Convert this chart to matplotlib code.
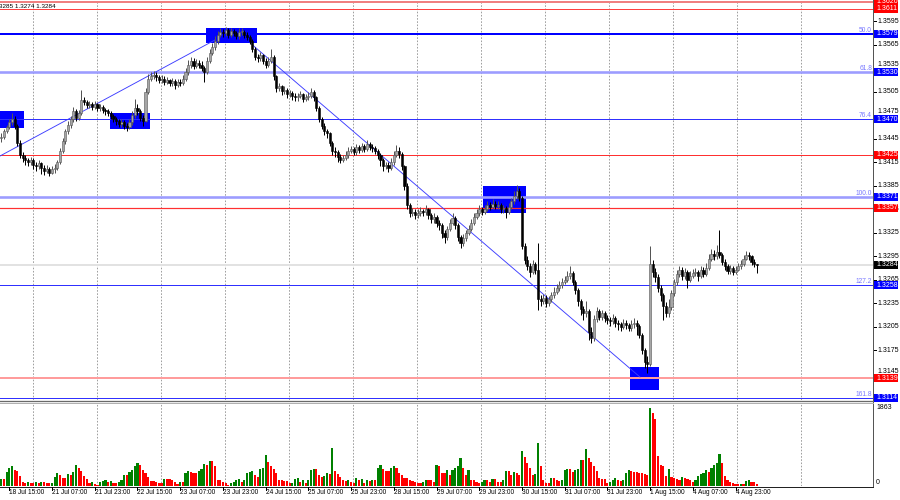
import matplotlib
matplotlib.use('Agg')
import matplotlib.pyplot as plt
from matplotlib.patches import Rectangle
import matplotlib.transforms as mtransforms

# ---------------- data (H1 candles, 18 Jul 12:00 .. 5 Aug 07:00) ----------------
open_ = [
1.3446,1.3448,1.3455,1.3460,1.3466,1.3470,1.3462,1.3440,1.3425,1.3420,
1.3418,1.3415,1.3418,1.3412,1.3410,1.3414,1.3408,1.3404,1.3407,1.3402,
1.3406,1.3408,1.3415,1.3430,1.3442,1.3455,1.3463,1.3470,1.3480,1.3472,
1.3478,1.3495,1.3492,1.3488,1.3490,1.3486,1.3489,1.3484,1.3486,1.3482,
1.3480,1.3478,1.3474,1.3470,1.3468,1.3464,1.3466,1.3462,1.3460,1.3466,
1.3475,1.3485,1.3480,1.3472,1.3468,1.3505,1.3522,1.3525,1.3527,1.3524,
1.3520,1.3522,1.3518,1.3520,1.3516,1.3519,1.3514,1.3518,1.3516,1.3521,
1.3530,1.3540,1.3545,1.3538,1.3542,1.3540,1.3536,1.3530,1.3545,1.3555,
1.3562,1.3570,1.3578,1.3582,1.3580,1.3584,1.3578,1.3583,1.3580,1.3576,
1.3582,1.3582,1.3578,1.3575,1.3570,1.3560,1.3550,1.3548,1.3552,1.3545,
1.3540,1.3545,1.3550,1.3525,1.3510,1.3512,1.3506,1.3508,1.3502,1.3504,
1.3500,1.3498,1.3500,1.3502,1.3496,1.3498,1.3500,1.3505,1.3498,1.3485,
1.3470,1.3462,1.3455,1.3452,1.3440,1.3430,1.3428,1.3422,1.3418,1.3420,
1.3425,1.3430,1.3432,1.3428,1.3434,1.3431,1.3436,1.3432,1.3438,1.3435,
1.3433,1.3430,1.3424,1.3418,1.3410,1.3412,1.3408,1.3415,1.3425,1.3430,
1.3426,1.3410,1.3385,1.3360,1.3350,1.3352,1.3348,1.3350,1.3353,1.3351,
1.3355,1.3348,1.3342,1.3345,1.3338,1.3335,1.3325,1.3320,1.3330,1.3338,
1.3344,1.3335,1.3320,1.3312,1.3318,1.3325,1.3330,1.3338,1.3345,1.3350,
1.3355,1.3352,1.3356,1.3360,1.3358,1.3362,1.3359,1.3361,1.3355,1.3357,
1.3352,1.3358,1.3365,1.3372,1.3378,1.3370,1.3308,1.3290,1.3282,1.3275,
1.3285,1.3278,1.3240,1.3238,1.3242,1.3235,1.3240,1.3245,1.3250,1.3255,
1.3258,1.3262,1.3265,1.3270,1.3274,1.3262,1.3252,1.3238,1.3228,1.3222,
1.3225,1.3198,1.3190,1.3215,1.3225,1.3218,1.3222,1.3216,1.3214,1.3212,
1.3216,1.3210,1.3208,1.3205,1.3210,1.3207,1.3204,1.3208,1.3210,1.3206,
1.3195,1.3175,1.3160,1.3158,1.3285,1.3275,1.3268,1.3255,1.3245,1.3232,
1.3222,1.3230,1.3248,1.3262,1.3272,1.3278,1.3270,1.3275,1.3265,1.3270,
1.3274,1.3275,1.3270,1.3278,1.3272,1.3280,1.3292,1.3298,1.3295,1.3300,
1.3296,1.3288,1.3282,1.3276,1.3280,1.3275,1.3278,1.3282,1.3285,1.3292,
1.3296,1.3295,1.3288,1.3285]

high = [
1.3452,1.3457,1.3463,1.3470,1.3478,1.3474,1.3464,1.3443,1.3428,1.3424,
1.3421,1.3422,1.3420,1.3416,1.3418,1.3416,1.3412,1.3411,1.3409,1.3410,
1.3413,1.3418,1.3433,1.3446,1.3458,1.3468,1.3474,1.3486,1.3483,1.3482,
1.3507,1.3499,1.3495,1.3494,1.3492,1.3493,1.3491,1.3490,1.3488,1.3485,
1.3483,1.3480,1.3477,1.3473,1.3471,1.3470,1.3469,1.3465,1.3470,1.3480,
1.3496,1.3490,1.3483,1.3476,1.3510,1.3528,1.3530,1.3532,1.3530,1.3527,
1.3527,1.3525,1.3524,1.3522,1.3523,1.3521,1.3522,1.3521,1.3526,1.3535,
1.3546,1.3550,1.3548,1.3547,1.3546,1.3544,1.3538,1.3550,1.3560,1.3568,
1.3576,1.3583,1.3587,1.3585,1.3588,1.3586,1.3587,1.3585,1.3583,1.3586,
1.3587,1.3584,1.3581,1.3578,1.3572,1.3562,1.3554,1.3556,1.3554,1.3548,
1.3550,1.3560,1.3552,1.3527,1.3516,1.3514,1.3512,1.3510,1.3508,1.3506,
1.3503,1.3504,1.3506,1.3504,1.3502,1.3505,1.3510,1.3507,1.3500,1.3487,
1.3473,1.3465,1.3458,1.3454,1.3442,1.3434,1.3431,1.3426,1.3425,1.3430,
1.3434,1.3436,1.3435,1.3438,1.3437,1.3440,1.3439,1.3444,1.3441,1.3438,
1.3436,1.3432,1.3427,1.3420,1.3416,1.3415,1.3420,1.3430,1.3437,1.3434,
1.3428,1.3412,1.3388,1.3363,1.3357,1.3355,1.3355,1.3358,1.3356,1.3360,
1.3357,1.3350,1.3350,1.3348,1.3341,1.3337,1.3328,1.3334,1.3342,1.3350,
1.3346,1.3337,1.3322,1.3323,1.3329,1.3335,1.3342,1.3350,1.3355,1.3360,
1.3358,1.3361,1.3365,1.3364,1.3368,1.3365,1.3366,1.3363,1.3361,1.3359,
1.3363,1.3370,1.3378,1.3386,1.3382,1.3372,1.3312,1.3295,1.3286,1.3290,
1.3288,1.3312,1.3245,1.3247,1.3245,1.3244,1.3250,1.3256,1.3260,1.3263,
1.3267,1.3270,1.3276,1.3282,1.3276,1.3265,1.3255,1.3241,1.3232,1.3238,
1.3228,1.3205,1.3220,1.3230,1.3228,1.3226,1.3225,1.3220,1.3217,1.3221,
1.3219,1.3213,1.3211,1.3215,1.3214,1.3210,1.3214,1.3216,1.3213,1.3208,
1.3197,1.3178,1.3168,1.3308,1.3290,1.3280,1.3272,1.3258,1.3248,1.3236,
1.3240,1.3252,1.3266,1.3278,1.3282,1.3281,1.3280,1.3278,1.3276,1.3279,
1.3280,1.3278,1.3282,1.3281,1.3286,1.3298,1.3304,1.3303,1.3310,1.3329,
1.3299,1.3291,1.3285,1.3284,1.3283,1.3282,1.3287,1.3290,1.3297,1.3302,
1.3300,1.3297,1.3291,1.3285]

low = [
1.3441,1.3445,1.3452,1.3457,1.3463,1.3458,1.3436,1.3421,1.3415,1.3412,
1.3410,1.3411,1.3406,1.3404,1.3407,1.3400,1.3399,1.3401,1.3398,1.3400,
1.3402,1.3405,1.3413,1.3427,1.3439,1.3451,1.3459,1.3466,1.3468,1.3469,
1.3476,1.3488,1.3484,1.3485,1.3482,1.3483,1.3480,1.3481,1.3478,1.3476,
1.3474,1.3470,1.3466,1.3463,1.3460,1.3460,1.3458,1.3455,1.3457,1.3463,
1.3472,1.3476,1.3468,1.3462,1.3466,1.3502,1.3519,1.3521,1.3519,1.3516,
1.3517,1.3514,1.3515,1.3512,1.3513,1.3509,1.3511,1.3512,1.3514,1.3519,
1.3527,1.3536,1.3534,1.3535,1.3536,1.3532,1.3518,1.3528,1.3542,1.3552,
1.3559,1.3566,1.3575,1.3575,1.3577,1.3574,1.3575,1.3576,1.3572,1.3573,
1.3578,1.3574,1.3571,1.3566,1.3556,1.3546,1.3543,1.3545,1.3541,1.3536,
1.3537,1.3542,1.3520,1.3505,1.3506,1.3501,1.3502,1.3497,1.3498,1.3495,
1.3493,1.3494,1.3497,1.3492,1.3493,1.3495,1.3497,1.3494,1.3481,1.3466,
1.3457,1.3450,1.3446,1.3436,1.3425,1.3422,1.3416,1.3414,1.3415,1.3418,
1.3421,1.3427,1.3424,1.3425,1.3427,1.3428,1.3428,1.3430,1.3431,1.3428,
1.3426,1.3419,1.3410,1.3404,1.3406,1.3403,1.3405,1.3412,1.3422,1.3420,
1.3405,1.3380,1.3355,1.3345,1.3346,1.3343,1.3344,1.3347,1.3346,1.3348,
1.3343,1.3337,1.3338,1.3333,1.3328,1.3318,1.3312,1.3316,1.3327,1.3335,
1.3330,1.3315,1.3306,1.3308,1.3315,1.3322,1.3327,1.3335,1.3342,1.3347,
1.3348,1.3349,1.3353,1.3354,1.3355,1.3355,1.3356,1.3350,1.3350,1.3344,
1.3349,1.3355,1.3362,1.3368,1.3366,1.3304,1.3285,1.3277,1.3268,1.3272,
1.3272,1.3226,1.3232,1.3234,1.3230,1.3231,1.3237,1.3242,1.3247,1.3251,
1.3255,1.3259,1.3262,1.3266,1.3258,1.3247,1.3232,1.3220,1.3214,1.3218,
1.3188,1.3184,1.3187,1.3211,1.3213,1.3214,1.3211,1.3209,1.3206,1.3208,
1.3205,1.3201,1.3200,1.3202,1.3202,1.3199,1.3200,1.3204,1.3194,1.3190,
1.3170,1.3152,1.3146,1.3155,1.3268,1.3262,1.3250,1.3238,1.3214,1.3218,
1.3218,1.3226,1.3244,1.3258,1.3268,1.3265,1.3266,1.3254,1.3262,1.3267,
1.3270,1.3264,1.3267,1.3268,1.3270,1.3278,1.3289,1.3290,1.3292,1.3293,
1.3284,1.3278,1.3272,1.3273,1.3271,1.3273,1.3276,1.3279,1.3283,1.3290,
1.3290,1.3284,1.3281,1.3274]

close = [
1.3448,1.3455,1.3460,1.3466,1.3470,1.3462,1.3440,1.3425,1.3420,1.3418,
1.3415,1.3418,1.3412,1.3410,1.3414,1.3408,1.3404,1.3407,1.3402,1.3406,
1.3408,1.3415,1.3430,1.3442,1.3455,1.3463,1.3470,1.3480,1.3472,1.3478,
1.3495,1.3492,1.3488,1.3490,1.3486,1.3489,1.3484,1.3486,1.3482,1.3480,
1.3478,1.3474,1.3470,1.3468,1.3464,1.3466,1.3462,1.3460,1.3466,1.3475,
1.3485,1.3480,1.3472,1.3468,1.3505,1.3522,1.3525,1.3527,1.3524,1.3520,
1.3522,1.3518,1.3520,1.3516,1.3519,1.3514,1.3518,1.3516,1.3521,1.3530,
1.3540,1.3545,1.3538,1.3542,1.3540,1.3536,1.3530,1.3545,1.3555,1.3562,
1.3570,1.3578,1.3582,1.3580,1.3584,1.3578,1.3583,1.3580,1.3576,1.3582,
1.3582,1.3578,1.3575,1.3570,1.3560,1.3550,1.3548,1.3552,1.3545,1.3540,
1.3545,1.3550,1.3525,1.3510,1.3512,1.3506,1.3508,1.3502,1.3504,1.3500,
1.3498,1.3500,1.3502,1.3496,1.3498,1.3500,1.3505,1.3498,1.3485,1.3470,
1.3462,1.3455,1.3452,1.3440,1.3430,1.3428,1.3422,1.3418,1.3420,1.3425,
1.3430,1.3432,1.3428,1.3434,1.3431,1.3436,1.3432,1.3438,1.3435,1.3433,
1.3430,1.3424,1.3418,1.3410,1.3412,1.3408,1.3415,1.3425,1.3430,1.3426,
1.3410,1.3385,1.3360,1.3350,1.3352,1.3348,1.3350,1.3353,1.3351,1.3355,
1.3348,1.3342,1.3345,1.3338,1.3335,1.3325,1.3320,1.3330,1.3338,1.3344,
1.3335,1.3320,1.3312,1.3318,1.3325,1.3330,1.3338,1.3345,1.3350,1.3355,
1.3352,1.3356,1.3360,1.3358,1.3362,1.3359,1.3361,1.3355,1.3357,1.3352,
1.3358,1.3365,1.3372,1.3378,1.3370,1.3308,1.3290,1.3282,1.3275,1.3285,
1.3278,1.3240,1.3238,1.3242,1.3235,1.3240,1.3245,1.3250,1.3255,1.3258,
1.3262,1.3265,1.3270,1.3274,1.3262,1.3252,1.3238,1.3228,1.3222,1.3225,
1.3198,1.3190,1.3215,1.3225,1.3218,1.3222,1.3216,1.3214,1.3212,1.3216,
1.3210,1.3208,1.3205,1.3210,1.3207,1.3204,1.3208,1.3210,1.3206,1.3195,
1.3175,1.3160,1.3158,1.3285,1.3275,1.3268,1.3255,1.3245,1.3232,1.3222,
1.3230,1.3248,1.3262,1.3272,1.3278,1.3270,1.3275,1.3265,1.3270,1.3274,
1.3275,1.3270,1.3278,1.3272,1.3280,1.3292,1.3298,1.3295,1.3300,1.3296,
1.3288,1.3282,1.3276,1.3280,1.3275,1.3278,1.3282,1.3285,1.3292,1.3296,
1.3295,1.3288,1.3285,1.3284]

volume = [
160,160,340,440,470,390,360,240,97,80,
97,80,80,100,80,97,97,80,65,80,
220,310,270,200,185,280,260,340,500,430,
350,240,160,80,97,40,35,100,120,145,
105,120,80,65,105,145,266,266,323,387,
468,549,508,387,307,226,121,121,105,80,
65,161,161,161,145,105,40,105,105,307,
347,323,307,307,347,403,533,508,589,589,
484,145,145,105,65,24,65,105,145,161,
105,145,307,323,347,266,226,403,420,750,
565,484,403,307,145,145,121,121,65,80,
161,186,105,145,80,145,387,403,403,266,
226,242,307,290,912,347,290,226,145,121,
145,105,65,186,145,161,65,145,121,145,
145,428,508,403,347,347,428,484,428,307,
266,202,202,145,121,105,65,65,105,145,
145,145,105,508,468,307,307,387,266,387,
428,484,670,428,266,387,145,145,105,65,
105,145,145,105,161,161,105,105,145,363,
363,266,323,307,266,831,686,549,428,266,
282,1017,484,145,80,65,186,186,145,121,
145,387,403,403,323,387,403,630,630,872,
670,565,468,347,186,161,161,65,105,145,
186,145,121,145,307,371,347,323,323,307,
307,290,266,1863,1740,1610,725,508,484,250,
403,226,186,161,145,220,200,160,145,100,
145,240,280,300,380,340,430,510,540,770,
540,240,140,100,65,40,40,55,55,120,
140,105,105,55]

time_labels = ['18 Jul 15:00', '21 Jul 07:00', '21 Jul 23:00', '22 Jul 15:00',
               '23 Jul 07:00', '23 Jul 23:00', '24 Jul 15:00', '25 Jul 07:00',
               '25 Jul 23:00', '28 Jul 15:00', '29 Jul 07:00', '29 Jul 23:00',
               '30 Jul 15:00', '31 Jul 07:00', '31 Jul 23:00', '1 Aug 15:00',
               '4 Aug 07:00', '4 Aug 23:00']
time_label_bars = [3, 19, 35, 51, 67, 83, 99, 115, 131, 147, 163, 179, 195, 211,
                   227, 243, 259, 275]
grid_bars = [11.7, 35.7, 59.7, 83.7, 107.7, 131.7, 155.7, 179.7, 203.7, 227.7,
             251.7, 275.7, 299.7]

price_ticks = [1.3595, 1.3565, 1.3535, 1.3505, 1.3475, 1.3445, 1.3415, 1.3385,
               1.3355, 1.3325, 1.3295, 1.3265, 1.3235, 1.3205, 1.3175, 1.3145]
# ticks whose label is nudged up (pixels) so the level boxes do not cover them
tick_nudge = {1.3535: 4.0, 1.3475: 4.0, 1.3145: 2.5}

# horizontal levels: (price, line colour, line width px, label box colour)
levels = [
    (1.3620, '#f08080', 2.0, '#ff0000'),
    (1.3611, '#ff4040', 1.0, '#ff0000'),
    (1.3579, '#0000ff', 2.0, '#0000ff'),
    (1.3530, '#9c9cff', 2.6, '#0000ff'),
    (1.3470, '#3030ff', 1.0, '#0000ff'),
    (1.3425, '#ff3030', 1.0, '#ff0000'),
    (1.3371, '#9c9cff', 2.6, '#0000ff'),
    (1.3357, '#ff3030', 1.2, '#ff0000'),
    (1.3284, '#e2e2e2', 2.0, '#000000'),
    (1.3258, '#3030ff', 1.0, '#0000ff'),
    (1.3139, '#ff9c9c', 2.0, '#ff0000'),
    (1.3114, '#3030ff', 1.0, '#0000ff'),
]
fib_labels = [('50.0', 1.3579), ('61.8', 1.3530), ('76.4', 1.3470),
              ('100.0', 1.3371), ('127.2', 1.3258), ('161.8', 1.3114)]

# zones (bar_start, bar_end, price_low, price_high)
zones = [(-1.0, 8.5, 1.34589, 1.34806),
         (40.7, 55.7, 1.34576, 1.34780),
         (76.7, 95.8, 1.35675, 1.35866),
         (180.4, 196.5, 1.33503, 1.33848),
         (235.5, 246.3, 1.31242, 1.31536)]
# trend lines ((bar, price), (bar, price))
trend_lines = [((-0.5, 1.34231), (80.0, 1.35713)),
               ((93.2, 1.35675), (239.2, 1.31408))]

# ---------------- figure / layout ----------------
plt.rcParams['font.family'] = ['Liberation Sans', 'DejaVu Sans']
W, H = 900, 500
PX = 0.72  # points per pixel at dpi 100
fig = plt.figure(figsize=(9, 5), dpi=100)
fig.patch.set_facecolor('white')


def rect(l, t, r, b):
    return [l / W, 1 - b / H, (r - l) / W, (b - t) / H]


ax = fig.add_axes(rect(0, 0, 873, 400))
axv = fig.add_axes(rect(0, 403, 873, 486))
ov = fig.add_axes([0, 0, 1, 1])
ov.set_xlim(0, W)
ov.set_ylim(H, 0)
ov.axis('off')

for a in (ax, axv):
    a.set_xlim(-0.5, 326.5)
    a.axis('off')
ax.set_ylim(1.31114, 1.36224)
axv.set_ylim(0, 1982)

# grid
for g in grid_bars:
    for a in (ax, axv):
        a.axvline(g, color='#a0a0a0', lw=1 * PX, ls=(0, (1.6, 1.6)), zorder=0.5)

# zones
for x0, x1, p0, p1 in zones:
    ax.add_patch(Rectangle((x0, p0), x1 - x0, p1 - p0, facecolor='#0000ff',
                           edgecolor='none', zorder=1))

# levels
for p, col, lw, _ in levels:
    ax.axhline(p, color=col, lw=lw * PX, zorder=1.5)

# trend lines
for (xa, pa), (xb, pb) in trend_lines:
    ax.plot([xa, xb], [pa, pb], color='#3c3cff', lw=0.9 * PX, zorder=2)

# candles
n = len(close)
bx, bb, bh = [], [], []
rx, rb, rh = [], [], []
for i in range(n):
    o, c = open_[i], close[i]
    body_lo = min(o, c)
    body_h = max(abs(c - o), 0.00007)
    if c >= o:
        bx.append(i); bb.append(body_lo); bh.append(body_h)
    else:
        rx.append(i); rb.append(body_lo); rh.append(body_h)
bull_idx = [i for i in range(n) if close[i] >= open_[i]]
bear_idx = [i for i in range(n) if close[i] < open_[i]]
ax.vlines(bull_idx, [low[i] for i in bull_idx], [high[i] for i in bull_idx],
          color='#555555', lw=1 * PX, zorder=3)
ax.vlines(bear_idx, [low[i] for i in bear_idx], [high[i] for i in bear_idx],
          color='#000000', lw=1 * PX, zorder=3)
ax.bar(bx, bh, bottom=bb, width=0.8, facecolor='#a6a6a6', edgecolor='#555555',
       linewidth=0.4, zorder=4)
ax.bar(rx, rh, bottom=rb, width=0.8, facecolor='#000000', edgecolor='#000000',
       linewidth=0.4, zorder=4)

# volumes
vcols = ['#008000'] + ['#008000' if volume[i] > volume[i - 1] else '#ff0000'
                       for i in range(1, n)]
axv.bar(range(n), volume, width=0.8, color=vcols, linewidth=0, zorder=3)

# ---------------- overlay: axes, labels ----------------
blend_p = mtransforms.blended_transform_factory(ov.transData, ax.transData)
blend_v = mtransforms.blended_transform_factory(ov.transData, axv.transData)
blend_t = mtransforms.blended_transform_factory(axv.transData, ov.transData)

FS = 5.0
# price ticks
for p in price_ticks:
    ov.plot([873, 876], [p, p], transform=blend_p, color='black', lw=1 * PX)
    tr = mtransforms.offset_copy(blend_p, fig=fig, y=tick_nudge.get(p, 0.0),
                                 units='dots')
    ov.text(877, p, f'{p:.4f}', transform=tr, ha='left', va='center',
            fontsize=FS, color='black')

# level label boxes
ppx = (1.36224 - 1.31114) / 400.0
for p, _, _, bcol in levels:
    ov.add_patch(Rectangle((874, p - 4 * ppx), 24, 8 * ppx, transform=blend_p,
                           facecolor=bcol, edgecolor='none', zorder=5))
    ov.text(876, p, f'{p:.4f}', transform=blend_p, ha='left', va='center',
            fontsize=FS, color='white', zorder=6)

# fib labels
for t, p in fib_labels:
    ov.text(872, p, t, transform=blend_p, ha='right', va='bottom',
            fontsize=4.8, color='#7878ff')

# volume scale
ov.text(876, 1863, '1863', transform=blend_v, ha='left', va='center',
        fontsize=FS, color='black')
ov.text(876, 0, '0', transform=blend_v, ha='left', va='bottom',
        fontsize=FS, color='black')

# borders
ov.plot([873, 873], [0, 487], color='#555555', lw=1 * PX)
ov.plot([0, 873], [487, 487], color='#222222', lw=1 * PX)
ov.plot([0, 873], [401.2, 401.2], color='#6a6a6a', lw=1.3 * PX)
ov.plot([0, 873], [402.6, 402.6], color='#b0b0b0', lw=1 * PX)

# time labels
for b, t in zip(time_label_bars, time_labels):
    ov.plot([b, b], [487, 490], transform=blend_t, color='black', lw=1 * PX)
    ov.text(b, 492.5, t, transform=blend_t, ha='left', va='center',
            fontsize=4.7, color='black')

# header (cropped OHLC line)
ov.text(-1, 6.5, '3285 1.3274 1.3284', ha='left', va='center', fontsize=4.6,
        color='black')

fig.savefig('out.png', dpi=100, facecolor='white')
